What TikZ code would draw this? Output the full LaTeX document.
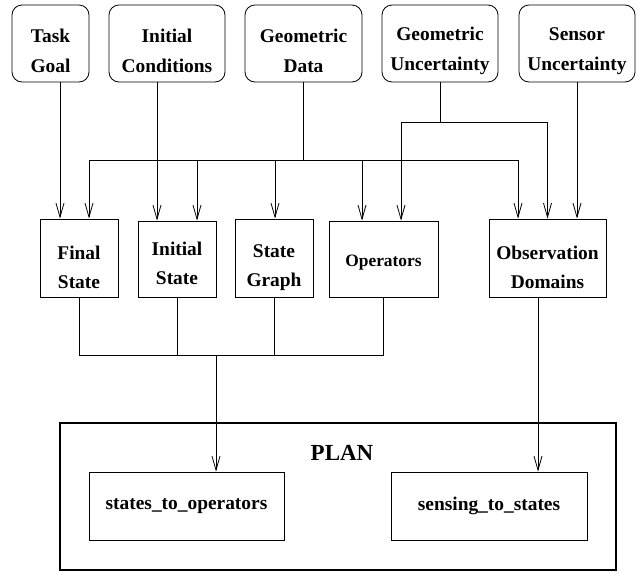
\documentclass[tikz,border=0pt]{standalone}
\usepackage{fontspec}
\setmainfont{Liberation Serif}
\usetikzlibrary{arrows.meta,positioning}

\tikzset{
  source/.style={draw,line width=0.8pt,rounded corners=10pt,minimum width=116pt,
    minimum height=77pt,inner sep=0pt,align=center,text height=59pt,
    font=\bfseries\fontsize{19.4}{30}\selectfont},
  block/.style={draw,line width=0.8pt,minimum width=78pt,minimum height=78pt,
    inner sep=0pt,align=center,text height=61pt,
    font=\bfseries\fontsize{19.4}{29}\selectfont},
  part/.style={draw,line width=0.8pt,minimum width=196pt,minimum height=68pt,
    inner sep=0pt,font=\bfseries\fontsize{19.4}{29}\selectfont},
  wire/.style={line width=0.8pt},
  feed/.style={wire,-{Straight Barb[length=14pt,width=8pt]}}
}

\begin{document}
\begin{tikzpicture}[x=1pt,y=-1pt]
  \useasboundingbox (0,0) rectangle (642,571);

  \node[source,minimum width=77pt] (goal) at (50.5,43.5) {Task\\Goal};
  \node[source] (cond) at (167,43.5) {Initial\\Conditions};
  \node[source,minimum width=117pt] (geom) at (303.5,43.5) {Geometric\\Data};
  \node[source] (gunc) at (440,43.5) {Geometric\\Uncertainty};
  \node[source] (sunc) at (577,43.5) {Sensor\\Uncertainty};

  \node[block] (final) at (79,258) {Final\\State};
  \node[block,minimum height=76pt,text height=52pt] (istate) at (177,259) {Initial\\State};
  \node[block] (graph) at (274,258) {State\\Graph};
  \node[block,minimum width=109pt,minimum height=76pt,text height=18pt,
    font=\bfseries\fontsize{17.4}{29}\selectfont] (ops) at (383.5,259) {Operators};
  \node[block,minimum width=117pt] (obs) at (547.5,258) {Observation\\Domains};

  \node[draw,line width=2pt,minimum width=556pt,minimum height=147pt,
    inner sep=0pt] (plan) at (338,496.5) {};
  \node[font=\bfseries\fontsize{23}{28}\selectfont] (title) at (342,453) {PLAN};
  \node[part,minimum width=195pt] (sto) at (186.5,506) {states\_to\_operators};
  \node[part] (sts) at (489,506) {sensing\_to\_states};

  \coordinate (gbus) at (303.5,160);
  \coordinate (ubus) at (440,122);
  \coordinate (pbus) at (216,355);

  \draw[feed] ([xshift=9.5pt]goal.south) -- ([xshift=-19pt]final.north);
  \draw[feed] ([xshift=-10pt]cond.south) -- ([xshift=-20pt]istate.north);

  \draw[wire] (geom.south) -- (gbus);
  \draw[feed] (gbus) -| ([xshift=10pt]final.north);
  \draw[feed] (gbus) -| ([xshift=20pt]istate.north);
  \draw[feed] (gbus) -| ([xshift=1pt]graph.north);
  \draw[feed] (gbus) -| ([xshift=-21.5pt]ops.north);
  \draw[feed] (gbus) -| ([xshift=-29.5pt]obs.north);

  \draw[wire] (gunc.south) -- (ubus);
  \draw[feed] (ubus) -| ([xshift=17.5pt]ops.north);
  \draw[feed] (ubus) -| (obs.north);
  \draw[feed] (sunc.south) -- ([xshift=29.5pt]obs.north);

  \draw[wire] (final.south) |- (pbus);
  \draw[wire] (istate.south) |- (pbus);
  \draw[wire] (graph.south) |- (pbus);
  \draw[wire] (ops.south) |- (pbus);
  \draw[feed] (pbus) -- ([xshift=29.5pt]sto.north);
  \draw[feed] ([xshift=-9.5pt]obs.south) -- ([xshift=49pt]sts.north);
\end{tikzpicture}
\end{document}
